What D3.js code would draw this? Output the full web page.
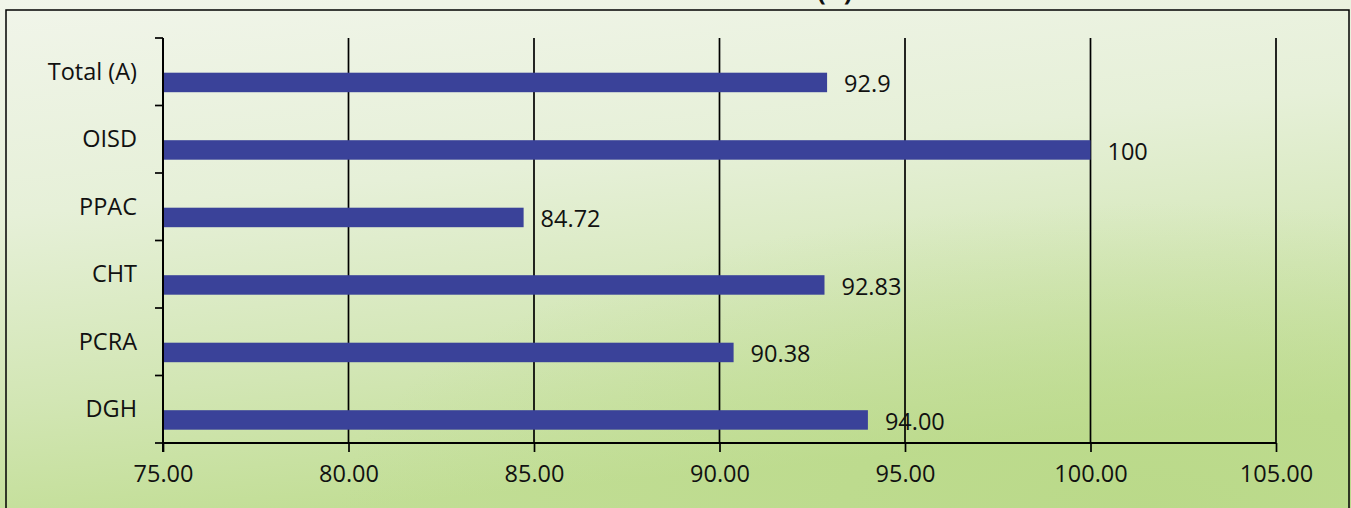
<!DOCTYPE html>
<html>
<head>
<meta charset="utf-8">
<script src="https://cdn.jsdelivr.net/npm/d3@7"></script>
<style>
  html, body { margin: 0; padding: 0; overflow: hidden; }
  body { width: 1351px; height: 508px; }
  text { font-family: "Open Sans", "Noto Sans", sans-serif; fill: #111; }
</style>
</head>
<body>
<div class="chart"></div>
<script>
// categories top to bottom, values and their printed labels
const categories = ["Total (A)", "OISD", "PPAC", "CHT", "PCRA", "DGH"];
const values = [92.9, 100, 84.72, 92.83, 90.38, 94.00];
const valueLabels = ["92.9", "100", "84.72", "92.83", "90.38", "94.00"];
const xTicks = [75, 80, 85, 90, 95, 100, 105];

const outerWidth = 1351, outerHeight = 508;
const margin = {top: 38, right: 75, bottom: 65, left: 163};
const width = 1276 - margin.left, height = 443 - margin.top;
const fontSize = 23.5;

const svg = d3.select(".chart").append("svg")
  .attr("width", outerWidth)
  .attr("height", outerHeight);

// greenish paper background
const defs = svg.append("defs");
const grad = defs.append("linearGradient").attr("id", "bg")
  .attr("x1", 0).attr("y1", 0).attr("x2", 0.25).attr("y2", 1);
grad.append("stop").attr("offset", "0%").attr("stop-color", "#f1f5ea");
grad.append("stop").attr("offset", "40%").attr("stop-color", "#e6f0d8");
grad.append("stop").attr("offset", "75%").attr("stop-color", "#d2e6b4");
grad.append("stop").attr("offset", "100%").attr("stop-color", "#c2de96");
const glow = defs.append("radialGradient").attr("id", "glow")
  .attr("cx", 0.85).attr("cy", 1).attr("r", 0.6);
glow.append("stop").attr("offset", "0%").attr("stop-color", "#b8d886").attr("stop-opacity", 0.8);
glow.append("stop").attr("offset", "100%").attr("stop-color", "#b8d886").attr("stop-opacity", 0);

svg.append("rect").attr("width", outerWidth).attr("height", outerHeight).attr("fill", "url(#bg)");
svg.append("rect").attr("width", outerWidth).attr("height", outerHeight).attr("fill", "url(#glow)");

// title, cut off at the top like the source crop
svg.append("text").attr("x", 817).attr("y", 0)
  .attr("font-size", 26).attr("font-weight", "bold").text("(A)");

// frame
svg.append("rect").attr("x", 6).attr("y", 10).attr("width", 1343).attr("height", 520)
  .attr("fill", "none").attr("stroke", "#000").attr("stroke-width", 1.5);

const g = svg.append("g").attr("transform", `translate(${margin.left},${margin.top})`);

const xScale = d3.scaleLinear().domain([75, 105]).range([0, width]);
const yScale = d3.scaleBand().domain(categories).range([0, height]);

// vertical gridlines
g.selectAll(".grid").data(xTicks.slice(1)).join("line")
  .attr("class", "grid")
  .attr("x1", d => xScale(d)).attr("x2", d => xScale(d))
  .attr("y1", 0).attr("y2", height)
  .attr("stroke", "#000").attr("stroke-width", 1.7);

// x axis
const xAxis = d3.axisBottom(xScale).tickValues(xTicks)
  .tickFormat(d3.format(".2f")).tickSize(9).tickPadding(13);
const x_axis = g.append("g").attr("transform", `translate(0,${height})`).call(xAxis);
x_axis.select(".domain").attr("stroke", "#000").attr("stroke-width", 2).attr("d", `M0,0H${width}`);
x_axis.selectAll(".tick line").attr("stroke", "#000").attr("stroke-width", 1.7);
x_axis.selectAll(".tick text").attr("font-size", fontSize).attr("fill", "#111")
  .attr("font-family", '"Open Sans", sans-serif');

// y axis: ticks between categories
const y_axis = g.append("g");
y_axis.append("line").attr("x1", 0).attr("x2", 0).attr("y1", 0).attr("y2", height + 9)
  .attr("stroke", "#000").attr("stroke-width", 2);
const boundaries = categories.map(c => yScale(c)).concat([height]);
y_axis.selectAll(".ytick").data(boundaries).join("line")
  .attr("class", "ytick")
  .attr("x1", -8).attr("x2", 0)
  .attr("y1", d => d).attr("y2", d => d)
  .attr("stroke", "#000").attr("stroke-width", 1.7);
y_axis.selectAll(".ylabel").data(categories).join("text")
  .attr("class", "ylabel")
  .attr("x", -26)
  .attr("y", d => yScale(d) + yScale.bandwidth() / 2 - 1)
  .attr("text-anchor", "end")
  .attr("dominant-baseline", "central")
  .attr("font-size", fontSize)
  .text(d => d);

// bars (sit in lower half of band like a two-series cluster)
const barH = 19.5;
const barOff = 34.7;
const bars = categories.map((c, i) => ({c, v: values[i], label: valueLabels[i]}));
g.selectAll(".bar").data(bars).join("rect")
  .attr("class", "bar")
  .attr("x", xScale(75) + 1)
  .attr("y", d => yScale(d.c) + barOff)
  .attr("width", d => xScale(d.v) - xScale(75) - 1)
  .attr("height", barH)
  .attr("fill", "#3a4299");

g.selectAll(".val").data(bars).join("text")
  .attr("class", "val")
  .attr("x", d => xScale(d.v) + 17)
  .attr("y", d => yScale(d.c) + barOff + barH / 2 + 1)
  .attr("dominant-baseline", "central")
  .attr("font-size", fontSize)
  .text(d => d.label);
</script>
</body>
</html>
